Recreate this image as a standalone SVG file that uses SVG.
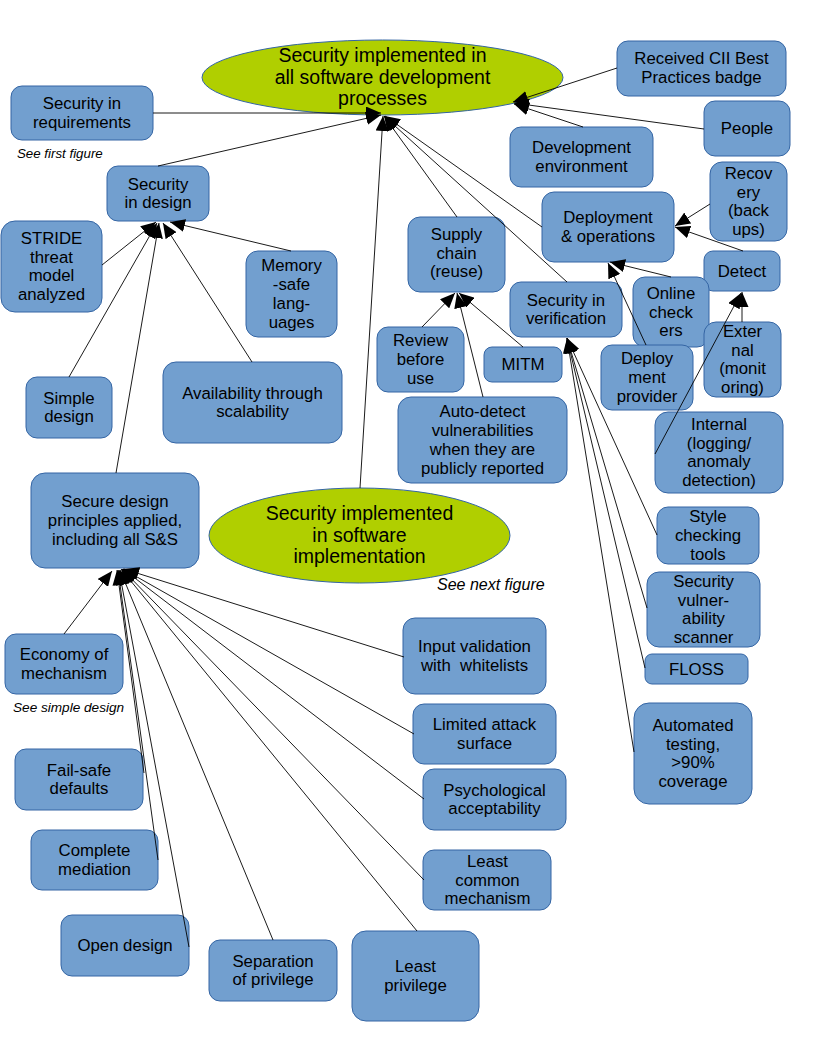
<svg xmlns="http://www.w3.org/2000/svg" width="816" height="1056" viewBox="0 0 816 1056">
<style>
.n rect{fill:#729fcf;stroke:#3465a4;stroke-width:1}
.n text,.e text{font-family:"Liberation Sans",Arial,sans-serif;font-size:16.8px;fill:#000;text-anchor:middle}
.e ellipse{fill:#b0cf00;stroke:#3465a4;stroke-width:1}
.e text{font-size:19.5px}
.note{font-family:"Liberation Sans",Arial,sans-serif;font-style:italic;fill:#000}
#connectors line{stroke:#000;stroke-width:0.9;marker-end:url(#ah)}
</style>
<defs>
<marker id="ah" markerUnits="userSpaceOnUse" markerWidth="15" markerHeight="13" refX="15" refY="6.5" orient="auto">
<path d="M0,0 L15,6.5 L0,13 z" fill="#000"/>
</marker>
</defs>
<rect width="816" height="1056" fill="#fff"/>

<g id="top" class="e"><ellipse cx="382.5" cy="77.5" rx="180.5" ry="37.5"/>
<text x="382.5" y="62">Security implemented in</text><text x="382.5" y="83.5">all software development</text><text x="382.5" y="105">processes</text></g>

<g id="impl" class="e"><ellipse cx="359.5" cy="535.5" rx="150.5" ry="47.5"/>
<text x="359.5" y="520">Security implemented</text><text x="359.5" y="541.5">in software</text><text x="359.5" y="563">implementation</text></g>

<g id="req" class="n"><rect x="11" y="86" width="142" height="54" rx="11"/><text x="82" y="109.1">Security in</text><text x="82" y="127.9">requirements</text></g>
<g id="design" class="n"><rect x="107" y="166" width="102" height="55" rx="11"/><text x="158" y="189.6">Security</text><text x="158" y="208.4">in design</text></g>
<g id="stride" class="n"><rect x="1" y="221" width="101" height="91" rx="14"/><text x="51.5" y="243.8">STRIDE</text><text x="51.5" y="262.6">threat</text><text x="51.5" y="281.4">model</text><text x="51.5" y="300.2">analyzed</text></g>
<g id="memory" class="n"><rect x="246" y="251" width="91" height="86" rx="12"/><text x="291.5" y="271.3">Memory</text><text x="291.5" y="290.1">-safe</text><text x="291.5" y="308.9">lang-</text><text x="291.5" y="327.7">uages</text></g>
<g id="simple" class="n"><rect x="26" y="377" width="86" height="61" rx="11"/><text x="69" y="403.6">Simple</text><text x="69" y="422.4">design</text></g>
<g id="avail" class="n"><rect x="163" y="362" width="179" height="81" rx="13"/><text x="252.5" y="398.6">Availability through</text><text x="252.5" y="417.4">scalability</text></g>
<g id="secure" class="n"><rect x="31" y="473" width="168" height="95" rx="14"/><text x="115" y="507.2">Secure design</text><text x="115" y="526">principles applied,</text><text x="115" y="544.8">including all S&amp;S</text></g>

<g id="cii" class="n"><rect x="617" y="41" width="169" height="55" rx="11"/><text x="701.5" y="64">Received CII Best</text><text x="701.5" y="82.8">Practices badge</text></g>
<g id="people" class="n"><rect x="704" y="101" width="86" height="55" rx="11"/><text x="747" y="134">People</text></g>
<g id="devenv" class="n"><rect x="510" y="127" width="143" height="60" rx="11"/><text x="581.5" y="153.1">Development</text><text x="581.5" y="171.9">environment</text></g>
<g id="recovery" class="n"><rect x="710" y="162" width="77" height="79" rx="12"/><text x="748.5" y="178.8">Recov</text><text x="748.5" y="197.6">ery</text><text x="748.5" y="216.4">(back</text><text x="748.5" y="235.2">ups)</text></g>
<g id="deployops" class="n"><rect x="542" y="192" width="132" height="70" rx="12"/><text x="608" y="223.1">Deployment</text><text x="608" y="241.9">&amp; operations</text></g>
<g id="supply" class="n"><rect x="408" y="217" width="97" height="75" rx="12"/><text x="456.5" y="239.7">Supply</text><text x="456.5" y="258.5">chain</text><text x="456.5" y="277.3">(reuse)</text></g>
<g id="detect" class="n"><rect x="704" y="251" width="76" height="40" rx="9"/><text x="742" y="276.5">Detect</text></g>
<g id="verif" class="n"><rect x="510" y="282" width="112" height="55" rx="11"/><text x="566" y="305.6">Security in</text><text x="566" y="324.4">verification</text></g>
<g id="online" class="n"><rect x="633" y="277" width="76" height="70" rx="12"/><text x="671" y="298.7">Online</text><text x="671" y="317.5">check</text><text x="671" y="336.3">ers</text></g>
<g id="external" class="n"><rect x="704" y="322" width="77" height="75" rx="12"/><text x="742.5" y="336.8">Exter</text><text x="742.5" y="355.6">nal</text><text x="742.5" y="374.4">(monit</text><text x="742.5" y="393.2">oring)</text></g>
<g id="review" class="n"><rect x="377" y="327" width="87" height="65" rx="11"/><text x="420.5" y="346.2">Review</text><text x="420.5" y="365">before</text><text x="420.5" y="383.8">use</text></g>
<g id="mitm" class="n"><rect x="484" y="347" width="78" height="35" rx="8"/><text x="523" y="370">MITM</text></g>
<g id="provider" class="n"><rect x="601" y="345" width="92" height="65" rx="11"/><text x="647" y="364.2">Deploy</text><text x="647" y="383">ment</text><text x="647" y="401.8">provider</text></g>
<g id="autodetect" class="n"><rect x="398" y="397" width="169" height="86" rx="13"/><text x="482.5" y="417.3">Auto-detect</text><text x="482.5" y="436.1">vulnerabilities</text><text x="482.5" y="454.9">when they are</text><text x="482.5" y="473.7">publicly reported</text></g>
<g id="internal" class="n"><rect x="655" y="412" width="128" height="81" rx="13"/><text x="719" y="429.8">Internal</text><text x="719" y="448.6">(logging/</text><text x="719" y="467.4">anomaly</text><text x="719" y="486.2">detection)</text></g>
<g id="style" class="n"><rect x="657" y="507" width="102" height="57" rx="11"/><text x="708" y="522.2">Style</text><text x="708" y="541">checking</text><text x="708" y="559.8">tools</text></g>
<g id="scanner" class="n"><rect x="647" y="572" width="113" height="75" rx="12"/><text x="703.5" y="586.8">Security</text><text x="703.5" y="605.6">vulner-</text><text x="703.5" y="624.4">ability</text><text x="703.5" y="643.2">scanner</text></g>
<g id="floss" class="n"><rect x="645" y="654" width="103" height="30" rx="7"/><text x="696.5" y="674.5">FLOSS</text></g>
<g id="automated" class="n"><rect x="634" y="703" width="118" height="101" rx="15"/><text x="693" y="730.8">Automated</text><text x="693" y="749.6">testing,</text><text x="693" y="768.4">&gt;90%</text><text x="693" y="787.2">coverage</text></g>

<g id="economy" class="n"><rect x="5" y="634" width="118" height="60" rx="11"/><text x="64" y="660.1">Economy of</text><text x="64" y="678.9">mechanism</text></g>
<g id="failsafe" class="n"><rect x="15" y="749" width="128" height="61" rx="11"/><text x="79" y="775.6">Fail-safe</text><text x="79" y="794.4">defaults</text></g>
<g id="complete" class="n"><rect x="31" y="830" width="127" height="60" rx="11"/><text x="94.5" y="856.1">Complete</text><text x="94.5" y="874.9">mediation</text></g>
<g id="open" class="n"><rect x="61" y="915" width="128" height="61" rx="11"/><text x="125" y="951">Open design</text></g>
<g id="separation" class="n"><rect x="209" y="940" width="128" height="61" rx="11"/><text x="273" y="966.6">Separation</text><text x="273" y="985.4">of privilege</text></g>
<g id="leastpriv" class="n"><rect x="352" y="931" width="127" height="90" rx="14"/><text x="415.5" y="972.1">Least</text><text x="415.5" y="990.9">privilege</text></g>
<g id="input" class="n"><rect x="403" y="618" width="143" height="76" rx="12"/><text x="474.5" y="652.1">Input validation</text><text x="474.5" y="670.9" xml:space="preserve">with  whitelists</text></g>
<g id="limited" class="n"><rect x="413" y="704" width="143" height="60" rx="11"/><text x="484.5" y="730.1">Limited attack</text><text x="484.5" y="748.9">surface</text></g>
<g id="psych" class="n"><rect x="423" y="769" width="143" height="61" rx="11"/><text x="494.5" y="795.6">Psychological</text><text x="494.5" y="814.4">acceptability</text></g>
<g id="leastcommon" class="n"><rect x="423" y="850" width="128" height="60" rx="11"/><text x="487.5" y="866.7">Least</text><text x="487.5" y="885.5">common</text><text x="487.5" y="904.3">mechanism</text></g>

<text class="note" x="17" y="158" font-size="13.3">See first figure</text>
<text class="note" x="13" y="712" font-size="13.6">See simple design</text>
<text class="note" x="437" y="590" font-size="16">See next figure</text>

<g id="connectors">
<line x1="153" y1="113" x2="381" y2="113"/>
<line x1="158" y1="166" x2="381" y2="115"/>
<line x1="360" y1="488" x2="383" y2="116"/>
<line x1="457" y1="217" x2="384" y2="116"/>
<line x1="567" y1="282" x2="384" y2="116"/>
<line x1="542" y1="227" x2="385" y2="116"/>
<line x1="617" y1="68" x2="513" y2="102"/>
<line x1="704" y1="129" x2="514" y2="103"/>
<line x1="583" y1="127" x2="514" y2="104"/>
<line x1="102" y1="265" x2="156" y2="222"/>
<line x1="69" y1="377" x2="157" y2="223"/>
<line x1="116" y1="473" x2="159" y2="223"/>
<line x1="252" y1="362" x2="163" y2="223"/>
<line x1="291" y1="251" x2="170" y2="222"/>
<line x1="422" y1="327" x2="455" y2="293"/>
<line x1="483" y1="397" x2="457" y2="293"/>
<line x1="523" y1="347" x2="459" y2="293"/>
<line x1="657" y1="535" x2="567" y2="338"/>
<line x1="647" y1="608" x2="567" y2="338"/>
<line x1="645" y1="668" x2="567" y2="338"/>
<line x1="634" y1="752" x2="567" y2="338"/>
<line x1="671" y1="277" x2="610" y2="262"/>
<line x1="646" y1="345" x2="608" y2="263"/>
<line x1="710" y1="204" x2="675" y2="226"/>
<line x1="743" y1="251" x2="675" y2="227"/>
<line x1="742" y1="322" x2="742" y2="292"/>
<line x1="655" y1="454" x2="741" y2="293"/>
<line x1="64" y1="634" x2="112" y2="571"/>
<line x1="144" y1="773" x2="117" y2="570"/>
<line x1="158" y1="860" x2="118" y2="570"/>
<line x1="189" y1="947" x2="119" y2="570"/>
<line x1="273" y1="940" x2="120" y2="570"/>
<line x1="417" y1="931" x2="121" y2="569"/>
<line x1="424" y1="880" x2="122" y2="569"/>
<line x1="424" y1="799" x2="123" y2="569"/>
<line x1="414" y1="734" x2="123" y2="569"/>
<line x1="404" y1="657" x2="124" y2="569"/>
</g>
</svg>
